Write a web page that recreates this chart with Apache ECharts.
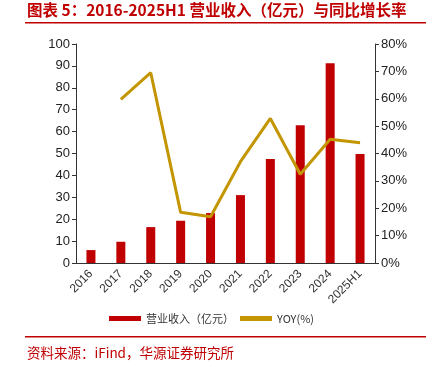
<!DOCTYPE html>
<html><head><meta charset="utf-8">
<script src="https://cdn.jsdelivr.net/npm/echarts@6/dist/echarts.min.js"></script>
<style>html,body{margin:0;padding:0;background:#fff}#c{width:433px;height:367px}</style>
</head><body><div id="c"></div>
<script>
var categories = ['2016','2017','2018','2019','2020','2021','2022','2023','2024','2025H1'];
var revenue = [5.9, 9.7, 16.4, 19.3, 22.8, 31.0, 47.5, 62.9, 91.2, 49.8];
var yoy = [null, 59.8, 69.5, 18.5, 16.9, 37.0, 52.8, 32.4, 45.2, 43.9];
var leftTicks = [0,10,20,30,40,50,60,70,80,90,100];
var rightTicks = [0,10,20,30,40,50,60,70,80];

var chart = echarts.init(document.getElementById('c'), null, {renderer:'canvas'});
var red = '#C00000', gold = '#C39500';
chart.setOption({
  animation:false,
  title:{show:false},
  legend:{
    bottom:38, left:104, itemGap:6, itemWidth:32, itemHeight:5,
    textStyle:{fontSize:11, color:'#333', fontFamily:'"Noto Sans CJK SC", sans-serif'},
    data:[{name:'营业收入（亿元）', icon:'rect'}, {name:'YOY(%)', icon:'rect', itemStyle:{color:gold}}]
  },
  grid:{left:76, right:58, top:44, bottom:104},
  xAxis:{type:'category', data:categories,
    axisLine:{lineStyle:{color:'#333'}}, axisTick:{show:false},
    axisLabel:{rotate:45, fontSize:12, color:'#333', fontFamily:'Liberation Sans, Arial', margin:9}},
  yAxis:[
    {type:'value', min:0, max:100, interval:10, splitLine:{show:false},
     axisLine:{show:true, lineStyle:{color:'#333'}}, axisTick:{show:true, length:4, lineStyle:{color:'#333'}},
     axisLabel:{fontSize:13, color:'#222', fontFamily:'Liberation Sans, Arial', margin:6}},
    {type:'value', min:0, max:80, interval:10, splitLine:{show:false},
     axisLine:{show:true, lineStyle:{color:'#333'}}, axisTick:{show:true, length:4, lineStyle:{color:'#333'}},
     axisLabel:{fontSize:13, color:'#222', fontFamily:'Liberation Sans, Arial', margin:6, formatter:'{value}%'}}
  ],
  series:[
    {name:'营业收入（亿元）', type:'bar', data:revenue, barWidth:9, itemStyle:{color:red}},
    {name:'YOY(%)', type:'line', yAxisIndex:1, data:yoy, symbol:'none', lineStyle:{color:gold, width:3}, itemStyle:{color:gold}}
  ],
  graphic:[
    {type:'text', left:27, top:2, style:{text:'图表 5：2016-2025H1 营业收入（亿元）与同比增长率', fill:red, font:'bold 15.5px "Noto Sans CJK SC", sans-serif'}},
    {type:'rect', shape:{x:25, y:22, width:401, height:1.5}, style:{fill:red}},
    {type:'rect', shape:{x:25, y:336, width:401, height:1.5}, style:{fill:red}},
    {type:'text', left:27, top:346, style:{text:'资料来源：iFind，华源证券研究所', fill:red, font:'13.5px "Noto Sans CJK SC", sans-serif'}}
  ]
});
</script></body></html>
